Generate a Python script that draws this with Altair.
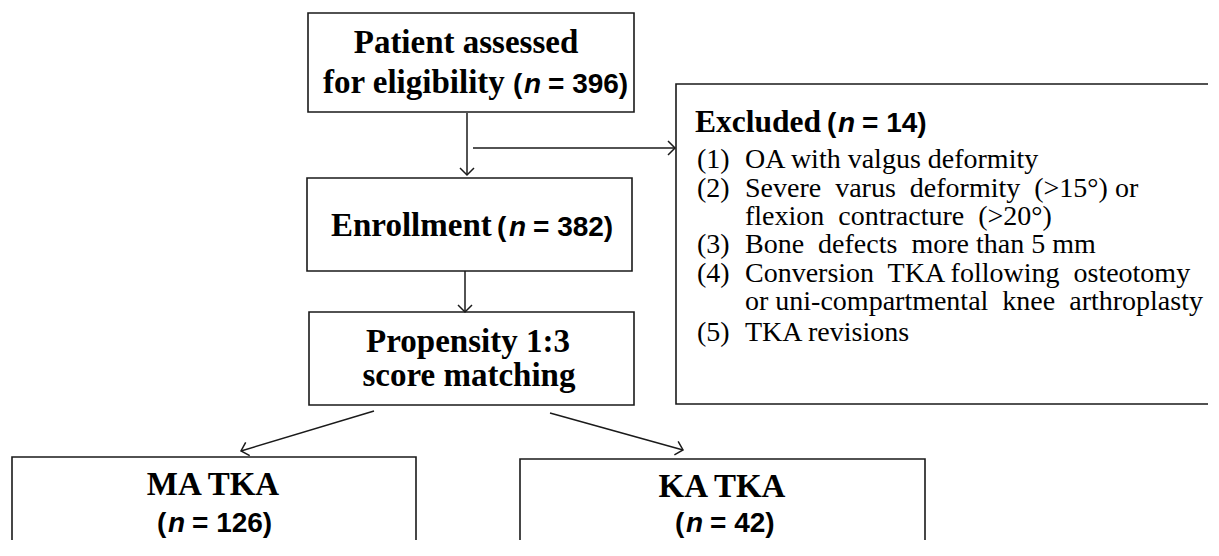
import altair as alt
import pandas as pd

# ---- canvas (reference pixel coordinates) ----
W, H = 1200, 532
X0, Y0 = 8, 8
NB = "\u00a0"

# ---- boxes ----
box_name = ["assessed", "enroll", "psm", "excluded", "ma", "ka"]
box_x1 = [308, 307, 309, 676, 12, 520]
box_x2 = [634, 632, 634, 1240, 416, 925]
box_y1 = [13, 178, 312, 84, 457, 459]
box_y2 = [112, 271, 405, 404, 600, 600]

# ---- connector lines (start -> tip) ----
seg_x1 = [467, 473, 465, 374, 550]
seg_y1 = [113, 148, 271, 411, 413]
seg_x2 = [467, 675, 465, 241, 683]
seg_y2 = [175, 148, 312, 451, 450]
head_angle = [90, 0, 90, 163.3, 15.6]

# ---- text pieces ----
txt = [
    "Patient assessed", "for eligibility", "(", "n", "= 396)",
    "Enrollment", "(", "n", "= 382)",
    "Propensity 1:3", "score matching",
    "Excluded", "(", "n", "= 14)",
    "(1)", "OA with valgus deformity",
    "(2)", "Severe" + NB + " varus" + NB + " deformity" + NB + " (>15°) or",
    "flexion" + NB + " contracture" + NB + " (>20°)",
    "(3)", "Bone" + NB + " defects" + NB + " more than 5 mm",
    "(4)", "Conversion" + NB + " TKA following" + NB + " osteotomy",
    "or uni-compartmental" + NB + " knee" + NB + " arthroplasty",
    "(5)", "TKA revisions",
    "MA TKA", "(", "n", "= 126)",
    "KA TKA", "(", "n", "= 42)",
]
txt_x = [
    466, 323, 513, 524, 548,
    331, 497, 509, 533,
    468, 469,
    695, 827, 838, 862,
    697, 745, 697, 745, 745, 697, 745, 697, 745, 745, 697, 745,
    213, 157, 168, 192,
    722, 675, 686, 710,
]
txt_y = [
    53, 93, 93, 93, 93,
    236, 236, 236, 236,
    352, 386,
    132, 132, 132, 132,
    168, 168, 197, 197, 225, 253, 253, 282, 282, 310, 341, 341,
    495, 532, 532, 532,
    497, 532, 532, 532,
]
txt_style = [
    "sb", "sbl", "ab", "abi", "ab",
    "sbl", "ab", "abi", "ab",
    "sb", "sb",
    "sbs", "ab", "abi", "ab",
] + ["sr"] * 12 + ["sb", "ab", "abi", "ab", "sb", "ab", "abi", "ab"]

styles = {
    "sb": dict(font="Liberation Serif", fontWeight="bold", fontStyle="normal", fontSize=33, align="center"),
    "sbl": dict(font="Liberation Serif", fontWeight="bold", fontStyle="normal", fontSize=33, align="left"),
    "sbs": dict(font="Liberation Serif", fontWeight="bold", fontStyle="normal", fontSize=31.5, align="left"),
    "sr": dict(font="Liberation Serif", fontWeight="normal", fontStyle="normal", fontSize=28, align="left"),
    "ab": dict(font="Liberation Sans", fontWeight="bold", fontStyle="normal", fontSize=28, align="left"),
    "abi": dict(font="Liberation Sans", fontWeight="bold", fontStyle="italic", fontSize=28, align="left"),
}

boxes = pd.DataFrame({"name": box_name, "x1": box_x1, "x2": box_x2, "y1": box_y1, "y2": box_y2})
segs = pd.DataFrame({"x1": seg_x1, "y1": seg_y1, "x2": seg_x2, "y2": seg_y2, "ang": head_angle})
texts = pd.DataFrame({"t": txt, "x": txt_x, "y": txt_y, "s": txt_style})

xs = alt.Scale(domain=[X0, X0 + W], nice=False, zero=False)
ys = alt.Scale(domain=[Y0, Y0 + H], nice=False, zero=False, reverse=True)
noax = None

rects = alt.Chart(boxes).mark_rect(fill="white", stroke="#1a1a1a", strokeWidth=1.6, clip=True).encode(
    x=alt.X("x1:Q", scale=xs, axis=noax), x2="x2:Q",
    y=alt.Y("y1:Q", scale=ys, axis=noax), y2="y2:Q",
)

lines = alt.Chart(segs).mark_rule(stroke="#1a1a1a", strokeWidth=1.5).encode(
    x=alt.X("x1:Q", scale=xs, axis=noax), x2="x2:Q",
    y=alt.Y("y1:Q", scale=ys, axis=noax), y2="y2:Q",
)

heads = alt.Chart(segs).mark_point(
    shape="M-1,-1L0,0L-1,1", size=196, filled=False, stroke="#1a1a1a", strokeWidth=1.5, opacity=1
).encode(
    x=alt.X("x2:Q", scale=xs, axis=noax),
    y=alt.Y("y2:Q", scale=ys, axis=noax),
    angle=alt.Angle("ang:Q", scale=None),
)

layers = [rects, lines, heads]
for key, st in styles.items():
    layers.append(
        alt.Chart(texts).transform_filter(alt.datum.s == key).mark_text(
            baseline="alphabetic", color="black", **st
        ).encode(
            x=alt.X("x:Q", scale=xs, axis=noax),
            y=alt.Y("y:Q", scale=ys, axis=noax),
            text="t:N",
        )
    )

chart = (
    alt.layer(*layers)
    .properties(width=W, height=H, padding=0)
    .configure_view(stroke=None)
)
chart.save("out.html", embed_options={"renderer": "svg", "actions": False})
